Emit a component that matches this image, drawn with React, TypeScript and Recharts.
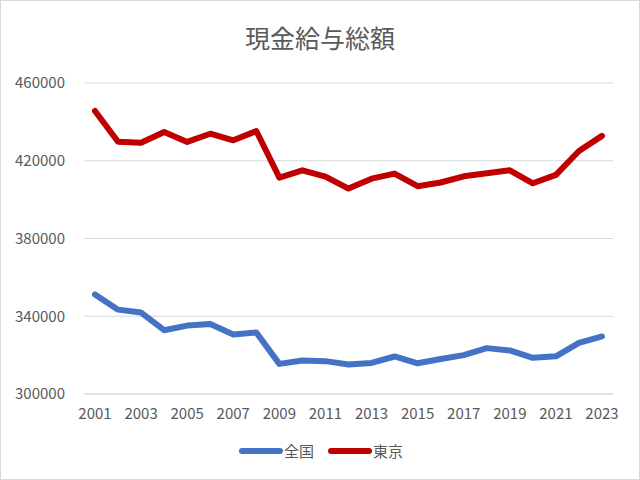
import { LineChart, Line, XAxis, YAxis, CartesianGrid, Legend } from 'recharts'

const years = [
  '2001', '2002', '2003', '2004', '2005', '2006', '2007', '2008', '2009', '2010', '2011', '2012',
  '2013', '2014', '2015', '2016', '2017', '2018', '2019', '2020', '2021', '2022', '2023',
]

const zenkoku = [
  351200, 343400, 341900, 332800, 335200, 336000, 330600, 331600, 315500, 317200, 316900, 315200,
  316000, 319300, 315800, 318000, 320000, 323600, 322400, 318600, 319400, 326300, 329600,
]

const tokyo = [
  445600, 429800, 429300, 434800, 429700, 433900, 430500, 435300, 411300, 415100, 411800, 405700,
  410800, 413400, 406900, 408800, 412000, 413600, 415100, 408400, 412700, 425000, 432800,
]

const yTicks = [300000, 340000, 380000, 420000, 460000]

const data = years.map((year, i) => ({ year, zenkoku: zenkoku[i], tokyo: tokyo[i] }))

const textColor = '#595959'
const font = '"Noto Sans CJK JP", "Noto Sans", sans-serif'

const series = [
  { key: 'zenkoku', name: '全国', color: '#4472C4' },
  { key: 'tokyo', name: '東京', color: '#C00000' },
]

const ChartLegend = () => (
  <div style={{ display: 'flex', justifyContent: 'center', gap: 14, fontFamily: font }}>
    {series.map((s) => (
      <div key={s.key} style={{ display: 'flex', alignItems: 'center' }}>
        <svg width={44} height={10}>
          <line x1={3} y1={5} x2={41} y2={5} stroke={s.color} strokeWidth={6} strokeLinecap="round" />
        </svg>
        <span style={{ fontSize: 15, color: textColor, marginLeft: 1 }}>{s.name}</span>
      </div>
    ))}
  </div>
)

export default function App() {
  return (
    <div
      style={{
        position: 'absolute',
        left: 0,
        top: 0,
        width: 640,
        height: 480,
        background: '#fff',
        border: '1px solid #d9d9d9',
        boxSizing: 'border-box',
      }}
    >
      <div
        style={{
          position: 'absolute',
          top: 18,
          width: '100%',
          textAlign: 'center',
          fontFamily: font,
          fontSize: 25,
          color: textColor,
        }}
      >
        現金給与総額
      </div>
      <LineChart
        width={638}
        height={478}
        data={data}
        margin={{ top: 82, right: 26, bottom: 0, left: 0 }}
        style={{ position: 'absolute', left: 0, top: 0 }}
      >
        <CartesianGrid vertical={false} stroke="#d9d9d9" />
        <XAxis
          dataKey="year"
          interval={1}
          padding={{ left: 11, right: 11 }}
          axisLine={{ stroke: '#d9d9d9' }}
          tickLine={false}
          tickSize={0}
          tickMargin={14}
          height={64}
          tick={{ fill: textColor, fontSize: 15, fontFamily: font }}
        />
        <YAxis
          domain={[300000, 460000]}
          ticks={yTicks}
          axisLine={false}
          tickLine={false}
          tickSize={0}
          tickMargin={19}
          width={83}
          tick={{ fill: textColor, fontSize: 15, fontFamily: font }}
        />
        <Legend
          verticalAlign="bottom"
          content={<ChartLegend />}
          wrapperStyle={{ bottom: 18, left: 0, width: 640 }}
        />
        {series.map((s) => (
          <Line
            key={s.key}
            type="linear"
            dataKey={s.key}
            name={s.name}
            stroke={s.color}
            strokeWidth={6}
            strokeLinecap="round"
            strokeLinejoin="round"
            dot={false}
            isAnimationActive={false}
          />
        ))}
      </LineChart>
    </div>
  )
}
